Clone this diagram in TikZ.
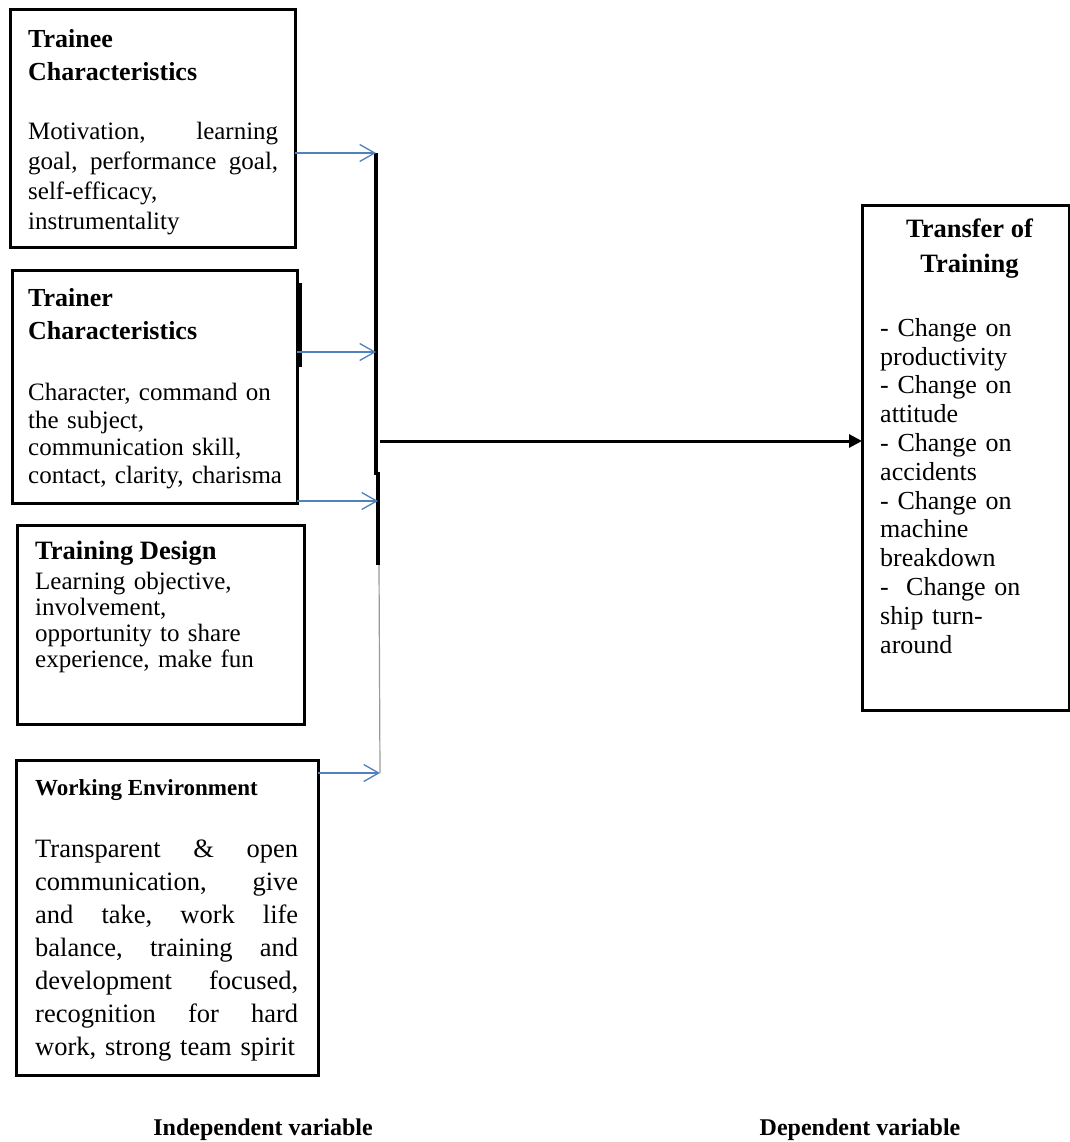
\documentclass[tikz,border=0pt]{standalone}
\usepackage{fontspec}
\setmainfont{Liberation Serif}
\usetikzlibrary{arrows.meta, positioning}
\definecolor{feedblue}{RGB}{79,129,189}
\newcommand{\jline}[2]{\leavevmode\hbox to #1{#2}}

\begin{document}
\begin{tikzpicture}[
    x=1pt, y=-1pt,
    frame/.style={draw, line width=3pt, outer sep=0pt, inner sep=0pt},
    title/.style={inner sep=0pt, align=left, font=\bfseries\fontsize{26}{33}\selectfont},
    body/.style={inner sep=0pt, align=left},
    caption/.style={inner sep=0pt, font=\bfseries\fontsize{24}{28}\selectfont},
    feed/.style={-{Straight Barb[length=15pt, width=17pt]}, feedblue, line width=1.3pt},
    bus/.style={line width=3.5pt},
    main/.style={-{Triangle[length=13pt, width=13pt]}, line width=3pt}
  ]
    \useasboundingbox (0,0) rectangle (1069,1142);

    % independent variables
    \node[frame, minimum width=285pt, minimum height=237pt] (trainee) at (152.5,128.5) {};
    \node[title, below right=19pt and 18pt of trainee.north west] (traineehead) {Trainee\\Characteristics};
    \node[body, text width=250pt, font=\fontsize{25}{30}\selectfont,
          below right=112pt and 18pt of trainee.north west] (traineetext)
      {\jline{250pt}{Motivation,\hfill learning}\\
       \jline{250pt}{goal,\hfil performance\hfil goal,}\\
       self-efficacy,\\
       instrumentality};

    \node[frame, minimum width=285pt, minimum height=233pt] (trainer) at (154.5,386.5) {};
    \draw[line width=3.5pt] (300,283) -- (300,367);
    \node[title, below right=18pt and 16pt of trainer.north west] (trainerhead) {Trainer\\Characteristics};
    \node[body, text width=262pt, font=\fontsize{25}{27.5}\selectfont,
          below right=113pt and 16pt of trainer.north west] (trainertext)
      {Character, command on\\
       the subject,\\
       communication skill,\\
       contact, clarity, charisma};

    \node[frame, minimum width=287pt, minimum height=199pt] (design) at (160.5,624.5) {};
    \node[title, font=\bfseries\fontsize{26.5}{33}\selectfont,
          below right=16pt and 18pt of design.north west] (designhead) {Training Design};
    \node[body, text width=262pt, font=\fontsize{25}{26}\selectfont,
          below right=47pt and 18pt of design.north west] (designtext)
      {Learning objective,\\
       involvement,\\
       opportunity to share\\
       experience, make fun};

    \node[frame, minimum width=302pt, minimum height=315pt] (working) at (167,917.5) {};
    \node[title, font=\bfseries\fontsize{23}{28}\selectfont,
          below right=19pt and 19pt of working.north west] (workinghead) {Working Environment};
    \node[body, text width=263pt, font=\fontsize{26.5}{33}\selectfont,
          below right=80pt and 19pt of working.north west] (workingtext)
      {\jline{263pt}{Transparent\hfil\&\hfil open}\\
       \jline{263pt}{communication,\hfil give}\\
       \jline{263pt}{and\hfil take,\hfil work\hfil life}\\
       \jline{263pt}{balance,\hfil training\hfil and}\\
       \jline{263pt}{development\hfil focused,}\\
       \jline{263pt}{recognition\hfil for\hfil hard}\\
       work, strong team spirit};

    % dependent variable
    \node[frame, minimum width=207pt, minimum height=505pt] (transfer) at (965.5,457.5) {};
    \node[title, align=center, font=\bfseries\fontsize{26.5}{35}\selectfont,
          below=14pt of transfer.north, xshift=4pt] (transferhead) {Transfer of\\Training};
    \node[body, text width=180pt, font=\fontsize{26}{28.8}\selectfont,
          below right=113pt and 18pt of transfer.north west] (transfertext)
      {- Change on\\
       productivity\\
       - Change on\\
       attitude\\
       - Change on\\
       accidents\\
       - Change on\\
       machine\\
       breakdown\\
       -\ \ Change on\\
       ship turn-\\
       around};

    % collecting line
    \coordinate (busA) at (376,153);
    \coordinate (busB) at (376,352);
    \coordinate (jogA) at (376,475);
    \coordinate (jogB) at (378,472);
    \coordinate (busC) at (378,501);
    \coordinate (busE) at (378,565);
    \coordinate (busF) at (379,565);
    \coordinate (busD) at (380,773);
    \coordinate (hub) at (380,441);

    \draw[bus] (busA) -- (jogA);
    \draw[bus] (jogB) -- (busE);
    \draw[gray!80, line width=1.2pt] (busF) -- (busD);

    \draw[feed] (trainee.east |- busA) -- (busA);
    \draw[feed] (trainer.east |- busB) -- (busB);
    \draw[feed] (trainer.east |- busC) -- (busC);
    \draw[feed] (working.east |- busD) -- (busD);

    \draw[main] (hub) -- (transfer.west |- hub);

    \node[caption] (indep) at (263,1130) {Independent variable};
    \node[caption] (dep) at (860,1130) {Dependent variable};
\end{tikzpicture}
\end{document}
